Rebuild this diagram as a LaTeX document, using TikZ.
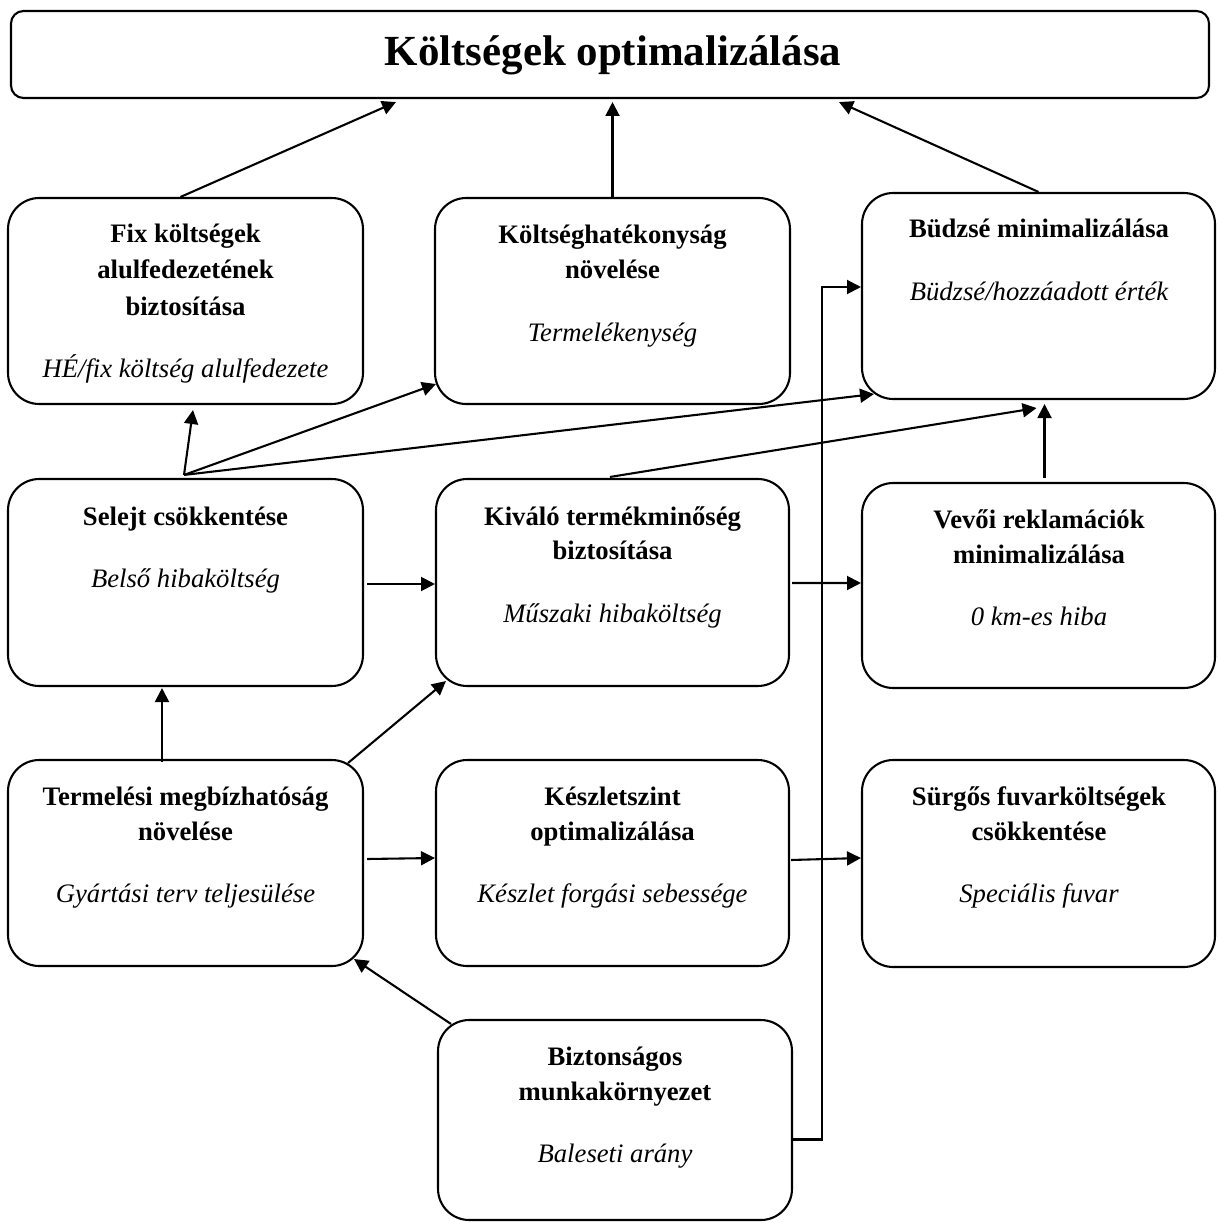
\documentclass[tikz,border=0pt]{standalone}
\usepackage{fontspec}
\setmainfont{Liberation Serif}
\usetikzlibrary{arrows.meta,calc,fit}
\begin{document}
\begin{tikzpicture}[x=0.48pt,y=-0.48pt,
  box/.style={draw,line width=1pt,rounded corners=15pt,inner sep=0pt,fit={#1}},
  hd/.style={anchor=base,inner sep=0pt,font=\fontsize{12.8}{15}\selectfont\bfseries},
  sub/.style={anchor=base,inner sep=0pt,font=\fontsize{12.8}{15}\selectfont\itshape},
  arr/.style={line width=1pt,-{Triangle[length=6.7pt,width=6.7pt]}}]
\useasboundingbox (0,0) rectangle (1217,1222);

% goal at the top
\node[box={(11,11)(1209,98)},rounded corners=6pt] (title) {};
\node[anchor=base,inner sep=0pt,font=\fontsize{20.6}{25}\selectfont\bfseries] (title-t) at (613,66) {Költségek optimalizálása};

% first row
\node[box={(8,198)(363,404)}] (fix) {};
\node[hd] (fix-a) at (185.5,243) {Fix költségek};
\node[hd] (fix-b) at (185.5,279) {alulfedezetének};
\node[hd] (fix-c) at (185.5,315) {biztosítása};
\node[sub] (fix-d) at (185.5,377) {HÉ/fix költség alulfedezete};

\node[box={(435,198)(790,404)}] (kh) {};
\node[hd] (kh-a) at (612.5,244) {Költséghatékonyság};
\node[hd] (kh-b) at (612.5,279) {növelése};
\node[sub] (kh-c) at (612.5,342) {Termelékenység};

\node[box={(862,193)(1215,399)}] (bud) {};
\node[hd] (bud-a) at (1039,238) {Büdzsé minimalizálása};
\node[sub] (bud-b) at (1039,300) {Büdzsé/hozzáadott érték};

% second row
\node[box={(8,479)(363,686)}] (selejt) {};
\node[hd] (selejt-a) at (185.5,525) {Selejt csökkentése};
\node[sub] (selejt-b) at (185.5,587) {Belső hibaköltség};

\node[box={(436,479)(789,686)}] (kivalo) {};
\node[hd] (kivalo-a) at (612.5,525) {Kiváló termékminőség};
\node[hd] (kivalo-b) at (612.5,559) {biztosítása};
\node[sub] (kivalo-c) at (612.5,622) {Műszaki hibaköltség};

\node[box={(862,483)(1215,688)}] (vevoi) {};
\node[hd] (vevoi-a) at (1039,528) {Vevői reklamációk};
\node[hd] (vevoi-b) at (1039,563) {minimalizálása};
\node[sub] (vevoi-c) at (1039,625) {0 km-es hiba};

% third row
\node[box={(8,760)(363,966)}] (term) {};
\node[hd] (term-a) at (185.5,805) {Termelési megbízhatóság};
\node[hd] (term-b) at (185.5,840) {növelése};
\node[sub] (term-c) at (185.5,902) {Gyártási terv teljesülése};

\node[box={(436,760)(789,966)}] (kesz) {};
\node[hd] (kesz-a) at (612.5,805) {Készletszint};
\node[hd] (kesz-b) at (612.5,840) {optimalizálása};
\node[sub] (kesz-c) at (612.5,902) {Készlet forgási sebessége};

\node[box={(862,760)(1215,967)}] (surgos) {};
\node[hd] (surgos-a) at (1039,805) {Sürgős fuvarköltségek};
\node[hd] (surgos-b) at (1039,840) {csökkentése};
\node[sub] (surgos-c) at (1039,902) {Speciális fuvar};

% bottom
\node[box={(438,1020)(792,1220)}] (bizt) {};
\node[hd] (bizt-a) at (615,1065) {Biztonságos};
\node[hd] (bizt-b) at (615,1100) {munkakörnyezet};
\node[sub] (bizt-c) at (615,1162) {Baleseti arány};

% links into the goal
\draw[arr] ($(fix.north)+(-5,0)$) -- ($(title.south)+(-214,3)$);
\draw[arr] (kh.north) -- ($(title.south -| kh.north)+(0,3)$);
\draw[arr] (bud.north) -- ($(title.south)+(229,3)$);

% fan out of the scrap-reduction box
\coordinate (fan) at ($(selejt.north)+(-1.5,-3)$);
\draw[arr] (fan) -- ($(fix.south)+(7.5,5)$);
\draw[arr] (fan) -- ($(kh.south west)+(2,-21)$);
\draw[arr] (fan) -- ($(bud.south west)+(13,-6)$);

% into the budget box
\draw[arr] ($(kivalo.north)+(-2.5,-1)$) -- ($(bud.south)+(-2,8)$);
\draw[arr] ($(vevoi.north)+(6,-4)$) -- ($(bud.south)+(6,4)$);

% horizontal links
\draw[arr] ($(selejt.east)+(3,1.5)$) -- ($(kivalo.west)+(0,1.5)$);
\draw[arr] ($(kivalo.east)+(2,0.5)$) -- ($(vevoi.west)+(0,-2.5)$);
\draw[arr] ($(term.east)+(3,-4)$) -- ($(kesz.west)+(0,-5)$);
\draw[arr] ($(kesz.east)+(1,-3)$) -- ($(surgos.west)+(0,-5.5)$);

% links out of the reliability box
\draw[arr] ($(term.north)+(-23.5,3)$) -- ($(selejt.south)+(-23.5,1)$);
\draw[arr] ($(term.north east)+(-16,4)$) -- ($(kivalo.south west)+(11,-6)$);

% links out of the safety box
\draw[arr] ($(bizt.north west)+(14,5)$) -- ($(term.south east)+(-10,-8)$);
\draw[arr] ($(bizt.east)+(0,19.5)$) -- ++(29,0) |- ($(bud.west)+(0,-9)$);
\end{tikzpicture}
\end{document}
